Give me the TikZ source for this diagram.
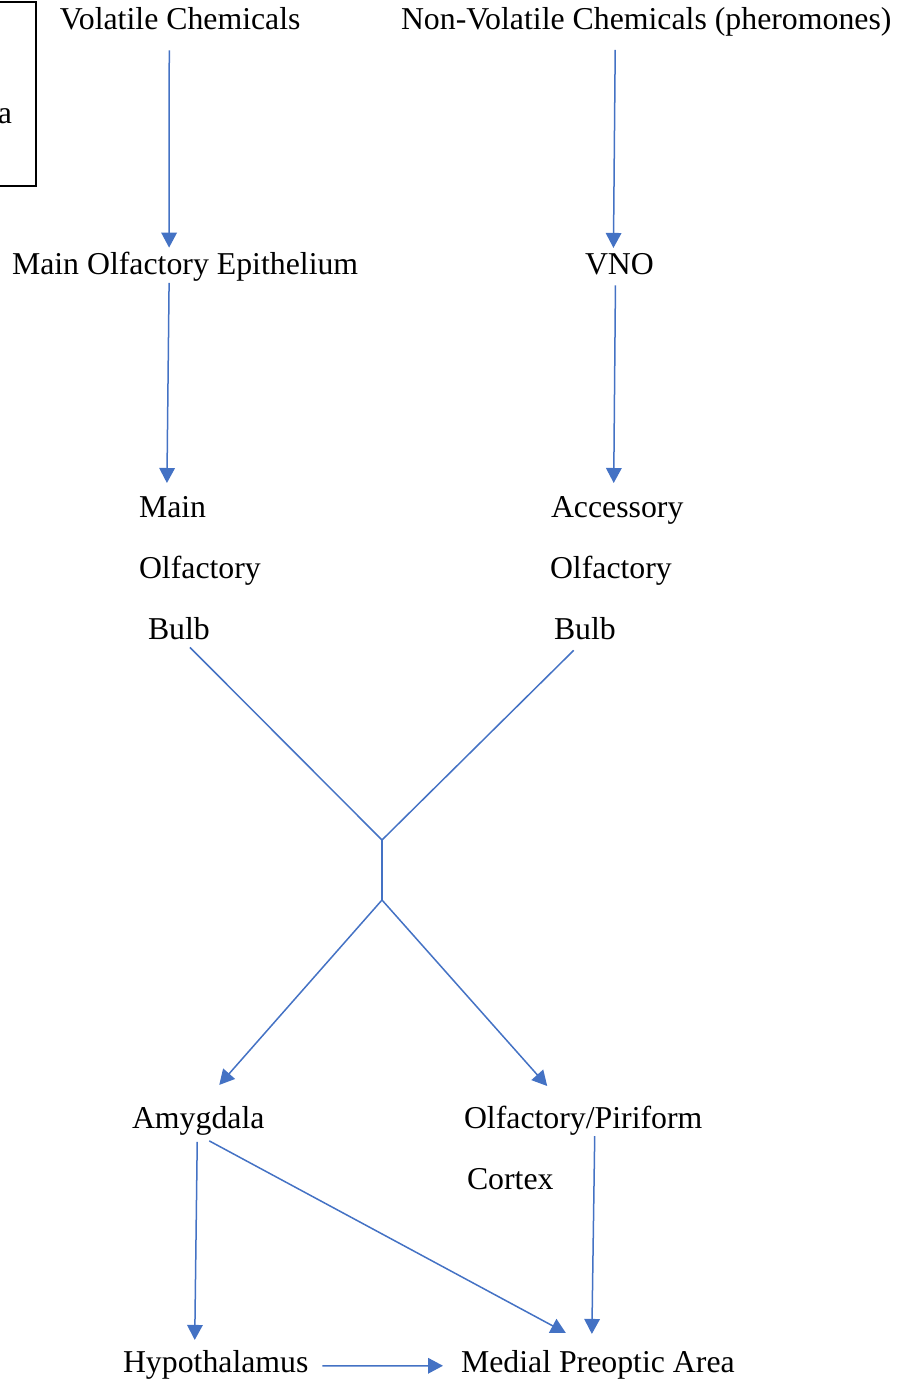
\documentclass[tikz,border=0pt]{standalone}
\usepackage{fontspec}
\setmainfont{Liberation Serif}
\usepackage{tikz}
\usetikzlibrary{calc,arrows.meta,positioning}
\definecolor{wordblue}{HTML}{4472C4}
\tikzset{>={Triangle[width=7.8pt,length=7.5pt]}}

\begin{document}
\begin{tikzpicture}[x=0.5pt,y=-0.5pt,
    lbl/.style={inner sep=0pt,outer sep=0pt,font=\fontsize{15.9}{30.5}\selectfont},
    stack/.style={lbl,align=left,anchor=north west},
    flow/.style={->,wordblue,line width=0.75pt},
    tie/.style={wordblue,line width=0.75pt}]
                \clip (0,0) rectangle (906,1383);
                \draw[line width=0.75pt] (-60,2) rectangle (36,186);
                \node[lbl,anchor=base east] (cut) at (12,123) {a};
                % sources
                \node[lbl,anchor=base west] (vol) at (60,29) {Volatile Chemicals};
                \node[lbl,anchor=base west] (nvc) at (401,29) {Non-Volatile Chemicals (pheromones)};
                \node[lbl,anchor=base west] (moe) at (12,274) {Main Olfactory Epithelium};
                \node[lbl,anchor=base west] (vno) at (585,274) {VNO};
                % bulbs
                \node[stack] (mob) at (139,496) {Main\\Olfactory\\\hspace*{4.5pt}Bulb};
                \node[stack] (aob) at (550,496) {\hspace*{0.5pt}Accessory\\Olfactory\\\hspace*{2pt}Bulb};
                \coordinate (j1) at (382,840);
                \coordinate (j2) at (382,900);
                % targets
                \node[lbl,anchor=base west] (amy) at (132,1128) {Amygdala};
                \node[stack] (opc) at (464,1106) {Olfactory/Piriform\\\hspace*{1.5pt}Cortex};
                \node[lbl,anchor=base west] (hyp) at (123,1372) {Hypothalamus};
                \node[lbl,anchor=base west] (mpa) at (461,1372) {Medial Preoptic Area};
                \draw[flow] ($(vol.south)+(-11,21)$) -- ($(moe.north)+(-16,-4)$);
                \draw[flow] ($(moe.south)+(-16,2)$) -- ($(mob.north)+(-33,-13)$);
                \draw[flow] ($(nvc.south)+(-31,14)$) -- ($(vno.north)+(-6,-5)$);
                \draw[flow] ($(vno.south)+(-4,11)$) -- ($(aob.north)+(-3,-13)$);
                \draw[tie] ($(mob.south)+(-10,8)$) -- (j1) -- ($(aob.south)+(-43,11)$);
                \draw[tie] (j1) -- (j2);
                \draw[flow] (j2) -- ($(amy.north)+(21,-21)$);
                \draw[flow] (j2) -- ($(opc.north)+(-36,-20)$);
                \draw[flow] ($(amy.south)+(-1,7)$) -- ($(hyp.north)+(-21,-10)$);
                \draw[flow] ($(amy.south)+(11,6)$) -- ($(mpa.north)+(-32,-17)$);
                \draw[flow] ($(opc.north)+(11.5,30)$) -- ($(mpa.north)+(-6,-16)$);
                \draw[flow] ($(hyp.east)+(14,1.4)$) -- ($(mpa.west)+(-18,1.4)$);
            \end{tikzpicture}
\end{document}
